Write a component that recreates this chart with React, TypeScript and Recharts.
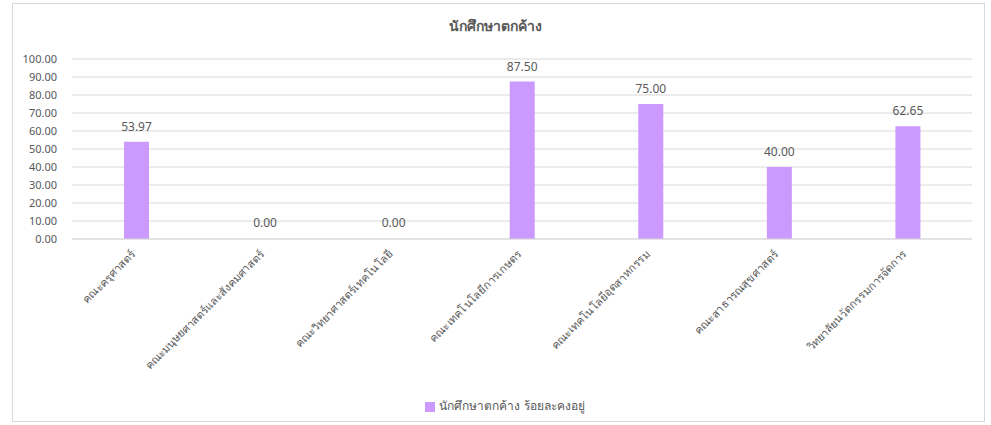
import { BarChart, Bar, CartesianGrid, XAxis, YAxis, Legend, LabelList, Rectangle } from "recharts";

const faculties = [
  "คณะครุศาสตร์",
  "คณะมนุษยศาสตร์และสังคมศาสตร์",
  "คณะวิทยาศาสตร์เทคโนโลยี",
  "คณะเทคโนโลยีการเกษตร",
  "คณะเทคโนโลยีอุตสาหกรรม",
  "คณะสาธารณสุขศาสตร์",
  "วิทยาลัยนวัตกรรมการจัดการ",
];
const retention = [53.97, 0, 0, 87.5, 75, 40, 62.65];
const yTicks = [0, 10, 20, 30, 40, 50, 60, 70, 80, 90, 100];
const seriesName = "นักศึกษาตกค้าง ร้อยละคงอยู่";

const data = faculties.map((name, i) => ({ name, value: retention[i] }));

const font = "'Noto Sans', 'DejaVu Sans', sans-serif";
const grey = "#595959";

function AngledTick(props: any) {
  const { x, y, payload } = props;
  return (
    <text
      x={x}
      y={y + 8}
      transform={`rotate(-45, ${x}, ${y + 8})`}
      textAnchor="end"
      fontSize={11}
      fill={grey}
      fontFamily={font}
    >
      {payload.value}
    </text>
  );
}

function ValueLabel(props: any) {
  const { x, y, width, value } = props;
  return (
    <text
      x={Number(x) + Number(width) / 2}
      y={Number(y) - 11}
      textAnchor="middle"
      fontSize={12}
      fill={grey}
      fontFamily={font}
    >
      {Number(value).toFixed(2)}
    </text>
  );
}

// zero bars keep their label but draw no rectangle (minPointSize keeps them alive)
function BarShape(props: any) {
  if (!props.value) return <g />;
  return <Rectangle {...props} />;
}

export default function App() {
  return (
    <div style={{ position: "absolute", left: 0, top: 0, width: 991, height: 425, background: "#fff", fontFamily: font }}>
      <div
        style={{
          position: "absolute",
          left: 12,
          top: 3,
          width: 971,
          height: 417,
          border: "1px solid #d9d9d9",
        }}
      />
      <div
        style={{
          position: "absolute",
          left: 0,
          width: 991,
          top: 15,
          textAlign: "center",
          fontSize: 14,
          fontWeight: "bold",
          color: grey,
        }}
      >
        นักศึกษาตกค้าง
      </div>
      <div style={{ position: "absolute", left: 0, top: 0 }}>
        <BarChart width={991} height={425} data={data} margin={{ top: 59, right: 19, left: 0, bottom: 10 }}>
          <CartesianGrid vertical={false} stroke="#d9d9d9" />
          <XAxis
            dataKey="name"
            interval={0}
            height={157}
            tick={<AngledTick />}
            tickLine={false}
            axisLine={{ stroke: "#d9d9d9" }}
          />
          <YAxis
            width={72}
            domain={[0, 100]}
            ticks={yTicks}
            interval={0}
            tickFormatter={(v: number) => v.toFixed(2)}
            tick={{ fill: grey, fontSize: 11, fontFamily: font }}
            tickLine={false}
            axisLine={false}
            tickMargin={9}
          />
          <Legend
            verticalAlign="bottom"
            iconType="square"
            iconSize={10}
            wrapperStyle={{ fontSize: 12, color: grey, fontFamily: font, paddingLeft: 24 }}
            formatter={(v: string) => <span style={{ color: grey }}>{v}</span>}
          />
          <Bar
            dataKey="value"
            name={seriesName}
            fill="#cc99ff"
            barSize={25}
            minPointSize={1}
            shape={<BarShape />}
            isAnimationActive={false}
          >
            <LabelList dataKey="value" content={<ValueLabel />} />
          </Bar>
        </BarChart>
      </div>
    </div>
  );
}
